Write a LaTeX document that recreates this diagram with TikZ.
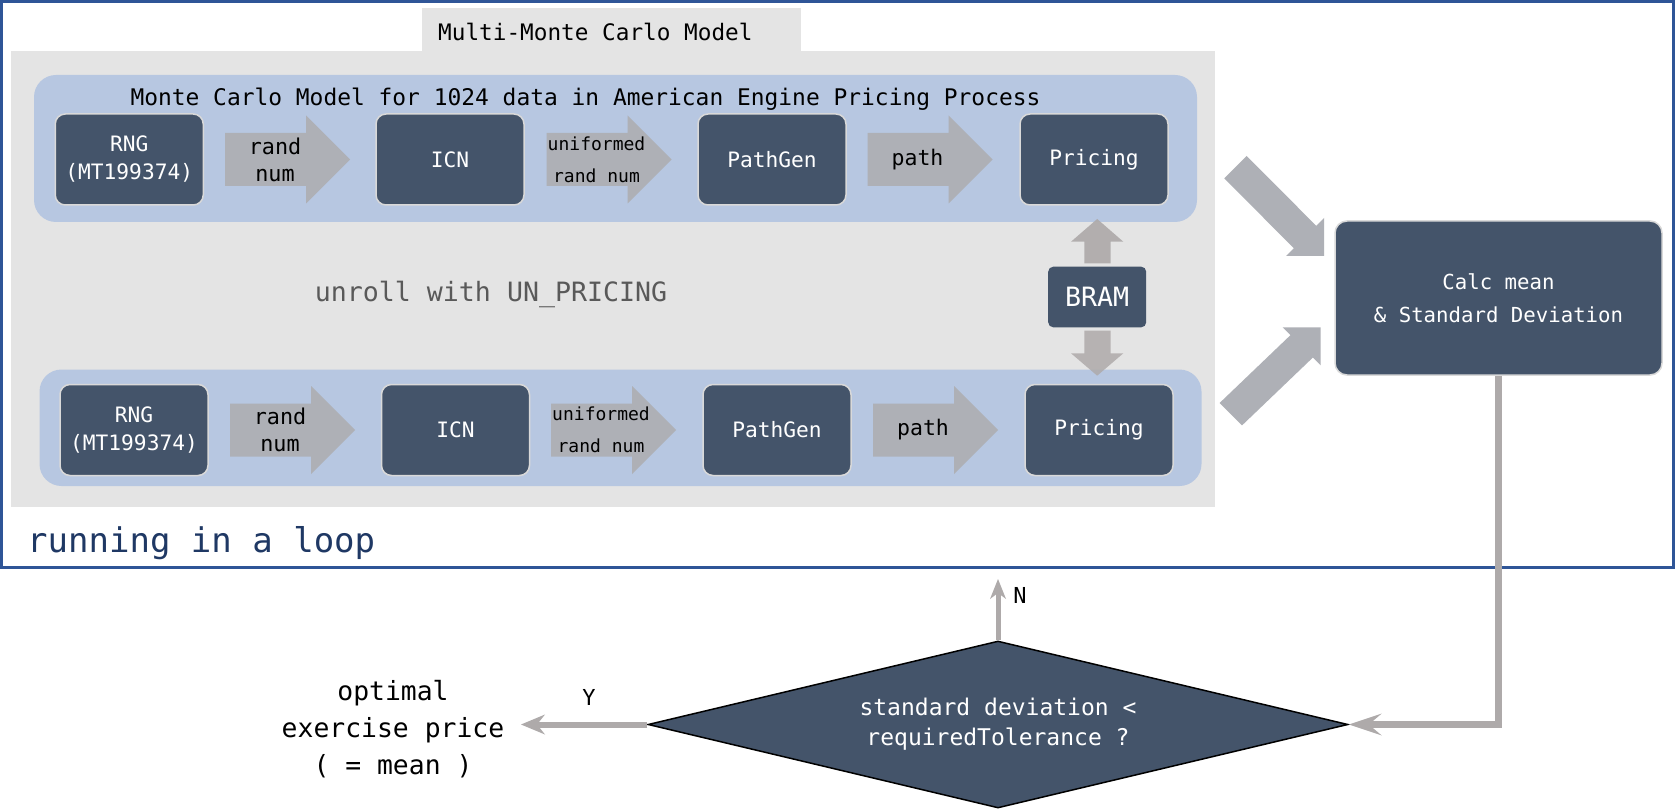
\documentclass[tikz,border=0pt]{standalone}
\usepackage{fontspec}
\newfontfamily\cmono{DejaVu Sans Mono}
\usetikzlibrary{arrows.meta,shapes.geometric}
\definecolor{frameblue}{RGB}{47,85,151}
\definecolor{bggray}{RGB}{228,228,228}
\definecolor{bandblue}{RGB}{183,199,225}
\definecolor{boxfill}{RGB}{68,84,106}
\definecolor{arrgray}{RGB}{174,176,182}
\definecolor{linegray}{RGB}{174,170,170}
\definecolor{loopblue}{RGB}{31,56,100}
\definecolor{txtgray}{RGB}{89,89,89}
\newcommand\fs[2]{\fontsize{#1}{#2}\selectfont}
% block arrow: name, x0, yc, font, text
\newcommand\blockarrow[5]{%
  \fill[arrgray] (#2,{#3-26.5}) -- ({#2+81},{#3-26.5}) -- ({#2+81},{#3-44}) -- ({#2+125},#3)
    -- ({#2+81},{#3+44}) -- ({#2+81},{#3+26.5}) -- (#2,{#3+26.5}) -- cycle;
  \node[arrtext, font=#4] (#1) at ({#2+50},#3) {#5};}
\begin{document}
\begin{tikzpicture}[x=1pt,y=-1pt,
  box/.style={draw=white!85!black, line width=1.5pt, fill=boxfill, rounded corners=10pt,
    text=white, align=center, minimum width=148pt, minimum height=91pt, inner sep=0pt,
    font=\cmono\fs{21.2}{28}},
  arrtext/.style={text=black, align=center, inner sep=0pt},
  band/.style={fill=bandblue, rounded corners=22pt},
]
\useasboundingbox (0,0) rectangle (1675,810);
\fill[white] (0,0) rectangle (1675,810);

% gray region and tab
\fill[bggray] (11,51) rectangle (1215,507);
\node[fill=bggray, minimum width=379pt, minimum height=42.5pt, inner sep=0pt] (tab) at (611.5,29.75) {};
\node[anchor=west, inner sep=0pt, font=\cmono\fs{22.7}{26}] (tabtxt) at (438,32) {Multi-Monte Carlo Model};

% bands
\fill[band] (34,75) rectangle (1197,222);
\fill[band] (39.5,369.5) rectangle (1201.5,486);
\node[inner sep=0pt, font=\cmono\fs{22.9}{26}] (title) at (585.5,99) {Monte Carlo Model for 1024 data in American Engine Pricing Process};

% top row
\node[box, font=\cmono\fs{21.2}{28}] (rng1) at (129.25,159.5) {RNG\\(MT199374)};
\node[box] (icn1) at (450,159.5) {ICN};
\node[box] (pg1) at (772,159.5) {PathGen};
\node[box] (pr1) at (1094,159.5) {Pricing};
\blockarrow{a11}{225}{159.5}{\cmono\fs{21.8}{27}}{rand\\num}
\blockarrow{a12}{546.5}{159.5}{\cmono\fs{18}{32}}{uniformed\\rand num}
\blockarrow{a13}{867.5}{159.5}{\cmono\fs{21.5}{27}}{path}

% bottom row
\node[box, font=\cmono\fs{21.2}{28}] (rng2) at (134,430) {RNG\\(MT199374)};
\node[box] (icn2) at (455.5,430) {ICN};
\node[box] (pg2) at (777,430) {PathGen};
\node[box] (pr2) at (1099,430) {Pricing};
\blockarrow{a21}{230}{430}{\cmono\fs{21.8}{27}}{rand\\num}
\blockarrow{a22}{551}{430}{\cmono\fs{18}{32}}{uniformed\\rand num}
\blockarrow{a23}{873}{430}{\cmono\fs{21.5}{27}}{path}

% unroll text
\node[text=txtgray, inner sep=0pt, font=\cmono\fs{26.6}{30}] (unroll) at (491,294) {unroll with UN\_PRICING};

% BRAM
\node[fill=boxfill, rounded corners=5pt, minimum width=98pt, minimum height=60.6pt, inner sep=0pt,
  text=white, font=\cmono\fs{26.6}{30}] (bram) at (1097.2,297) {BRAM};
\fill[linegray, opacity=0.92] (1084.3,263.3) -- (1084.3,241.7) -- (1071,241.7) -- (1097.2,219)
  -- (1123.3,241.7) -- (1110.7,241.7) -- (1110.7,263.3) -- cycle;
\fill[linegray, opacity=0.85] (1084.3,330.7) -- (1084.3,353.3) -- (1071,353.3) -- (1097.2,375.7)
  -- (1123.3,353.3) -- (1110.7,353.3) -- (1110.7,330.7) -- cycle;

% calc box
\node[box, minimum width=327pt, minimum height=154pt, rounded corners=12pt,
  font=\cmono\fs{20.7}{33}] (calc) at (1498.5,298) {Calc mean\\\& Standard Deviation};

% diagonal block arrows
\fill[arrgray] (1224.3,178.4) -- (1246.7,156) -- (1316.2,225.8) -- (1324,218) -- (1324,256)
  -- (1286,256) -- (1293.8,248.2) -- cycle;
\fill[arrgray] (1219.6,403) -- (1242,425.4) -- (1312.9,357.5) -- (1320.7,365.3) -- (1320.7,327.3)
  -- (1282.7,327.3) -- (1290.5,335.1) -- cycle;

% outer frame
\draw[frameblue, line width=3pt] (1.5,1.5) rectangle (1673.5,567);
\node[text=loopblue, anchor=base west, inner sep=0pt, font=\cmono\fs{34}{40}] (loop) at (27,552) {running in a loop};

% decision
\node[diamond, aspect=4.19, draw=black, line width=1.5pt, fill=boxfill, minimum width=700pt,
  minimum height=167pt, inner sep=0pt, text=white, align=center, font=\cmono\fs{23}{30}]
  (dia) at (998,724.5) {standard deviation <\\requiredTolerance ?};

\draw[linegray, line width=6.5pt, -{Stealth[length=33pt,width=22pt,inset=13pt,line width=0pt]}]
  (calc.south) |- (dia.east);

\coordinate (nend) at (998,579);
\draw[linegray, line width=5pt, -{Stealth[length=20pt,width=16pt,inset=6pt,line width=0pt]}]
  (dia.north) -- (nend);
\node[font=\cmono\fs{22}{26}, inner sep=0pt] (nlab) at (1020,595) {N};

\coordinate (yend) at (521,724.5);
\draw[linegray, line width=6pt, -{Stealth[length=24pt,width=20pt,inset=8pt,line width=0pt]}]
  (dia.west) -- (yend);
\node[font=\cmono\fs{22}{26}, inner sep=0pt] (ylab) at (589,697) {Y};

\node[align=center, inner sep=0pt, font=\cmono\fs{26.4}{37}] (opt) at (393,729) {optimal\\exercise price\\( = mean )};
\end{tikzpicture}
\end{document}
